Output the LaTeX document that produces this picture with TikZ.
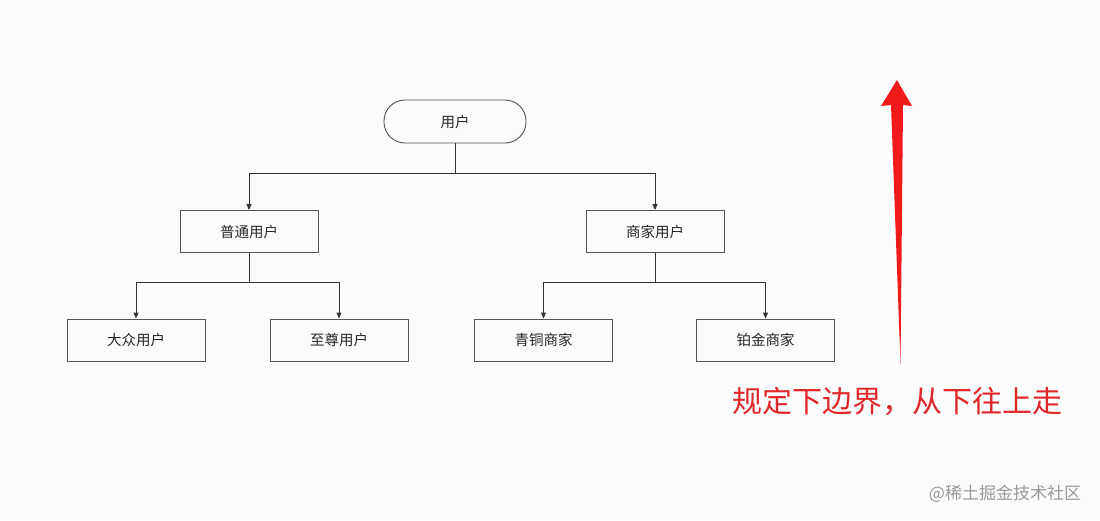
\documentclass[tikz,border=0pt]{standalone}
\usepackage{fontspec}
\setmainfont{Noto Sans CJK SC}
\usetikzlibrary{arrows.meta}
\definecolor{bg}{HTML}{FAFBFC}
\definecolor{boxline}{HTML}{555555}
\definecolor{redarrow}{HTML}{F01A1A}
\definecolor{redtext}{HTML}{E0282A}
\tikzset{
  box/.style={draw=boxline, line width=0.9pt, minimum width=138pt, minimum height=42pt, inner sep=0pt, font=\fontsize{14.5}{16}\selectfont, text=black!85},
  roundbox/.style={box, rounded corners=21pt, minimum width=142pt, minimum height=43pt},
  conn/.style={draw=black!80, line width=0.9pt},
  arr/.style={conn, -{Triangle[length=6pt,width=5pt]}}
}
\begin{document}
\begin{tikzpicture}[x=1pt,y=-1pt]
\fill[bg] (0,0) rectangle (1100,520);
\useasboundingbox (0,0) rectangle (1100,520);
\node[roundbox] (root) at (455,121.5) {用户};
\node[box] (pt) at (249,231.5) {普通用户};
\node[box] (sj) at (655,231.5) {商家用户};
\node[box] (dz) at (136,340) {大众用户};
\node[box] (zz) at (339,340) {至尊用户};
\node[box] (qt) at (543.5,340) {青铜商家};
\node[box] (bj) at (765.5,340) {铂金商家};
\coordinate (j0) at (455,173);
\coordinate (j1) at (249,282);
\coordinate (j2) at (655,282);
\draw[conn] (root.south) -- (j0);
\draw[arr] (j0) -| (pt.north);
\draw[arr] (j0) -| (sj.north);
\draw[conn] (pt.south) -- (j1);
\draw[arr] (j1) -| (dz.north);
\draw[arr] (j1) -| (zz.north);
\draw[conn] (sj.south) -- (j2);
\draw[arr] (j2) -| (qt.north);
\draw[arr] (j2) -| (bj.north);
% red tapered arrow
\fill[redarrow] (900.5,364) -- (891,105) -- (881,106) -- (897,80) -- (912,106) -- (903,105) -- cycle;
\node[text=redtext, font=\fontsize{30}{33}\selectfont, inner sep=0pt] (note) at (897.5,401) {规定下边界，从下往上走};
\node[text=black!40, font=\fontsize{17}{19}\selectfont, inner sep=0pt] (wm) at (1005,494) {@稀土掘金技术社区};
\end{tikzpicture}
\end{document}
